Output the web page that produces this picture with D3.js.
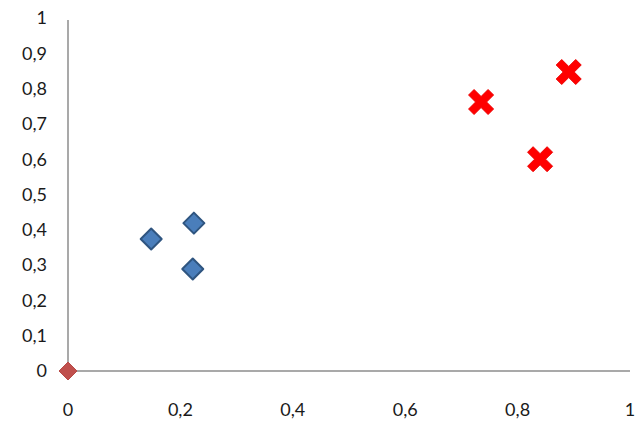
<!DOCTYPE html>
<html><head><meta charset="utf-8">
<script src="https://cdn.jsdelivr.net/npm/d3@7"></script>
<style>body{margin:0;background:#fff}svg{display:block}text{font-family:Lato,"Open Sans",sans-serif;font-size:18px;fill:#1a1a1a}</style>
</head><body><svg id="c" width="638" height="424"></svg>
<script>
const blueX = [0.148, 0.224, 0.222];
const blueY = [0.374, 0.419, 0.289];
const redX = [0.735, 0.840, 0.891];
const redY = [0.762, 0.600, 0.847];
const originX = [0];
const originY = [0];
const xTicks = [0, 0.2, 0.4, 0.6, 0.8, 1];
const yTicks = [0, 0.1, 0.2, 0.3, 0.4, 0.5, 0.6, 0.7, 0.8, 0.9, 1];

const svg = d3.select("#c");
const x = d3.scaleLinear().domain([0, 1]).range([68, 630]);
const y = d3.scaleLinear().domain([0, 1]).range([371, 18]);
const fmt = v => String(v).replace(".", ",");

// axes lines
svg.append("line").attr("x1", x(0)).attr("x2", x(0)).attr("y1", y(1) + 2).attr("y2", y(0))
  .attr("stroke", "#8c8c8c").attr("stroke-width", 1.5);
svg.append("line").attr("x1", x(0)).attr("x2", x(1)).attr("y1", y(0)).attr("y2", y(0))
  .attr("stroke", "#8c8c8c").attr("stroke-width", 1.5);

// tick labels
svg.selectAll(".yl").data(yTicks).enter().append("text")
  .attr("x", 47).attr("y", d => y(d)).attr("dy", "0.35em").attr("text-anchor", "end").text(fmt);
svg.selectAll(".xl").data(xTicks).enter().append("text")
  .attr("x", d => x(d)).attr("y", 410).attr("dy", "0.35em").attr("text-anchor", "middle").text(fmt);

// blue diamonds
const diamond = s => `M0,${-s}L${s},0L0,${s}L${-s},0Z`;
svg.selectAll(".b").data(blueX.map((v, i) => [v, blueY[i]])).enter().append("path")
  .attr("d", diamond(10.5)).attr("transform", d => `translate(${x(d[0])},${y(d[1])})`)
  .attr("fill", "#4a7ebb").attr("stroke", "#2f5580").attr("stroke-width", 2).attr("stroke-linejoin", "round");

// origin diamond
svg.selectAll(".o").data(originX.map((v, i) => [v, originY[i]])).enter().append("path")
  .attr("d", diamond(9)).attr("transform", d => `translate(${x(d[0])},${y(d[1])})`)
  .attr("fill", "#c0504d").attr("stroke", "#b84a47").attr("stroke-width", 1);

// red crosses
const crossPath = (() => {
  const a = 5.5, b = 12.5;
  return `M${-b+a},${-b}L0,${-a}L${b-a},${-b}L${b},${-b+a}L${a},0L${b},${b-a}L${b-a},${b}L0,${a}L${-b+a},${b}L${-b},${b-a}L${-a},0L${-b},${-b+a}Z`;
})();
svg.selectAll(".r").data(redX.map((v, i) => [v, redY[i]])).enter().append("path")
  .attr("d", crossPath).attr("transform", d => `translate(${x(d[0])},${y(d[1])})`)
  .attr("fill", "#ff0000").attr("stroke", "#ee0000").attr("stroke-width", 1).attr("stroke-linejoin", "round");
</script></body></html>
